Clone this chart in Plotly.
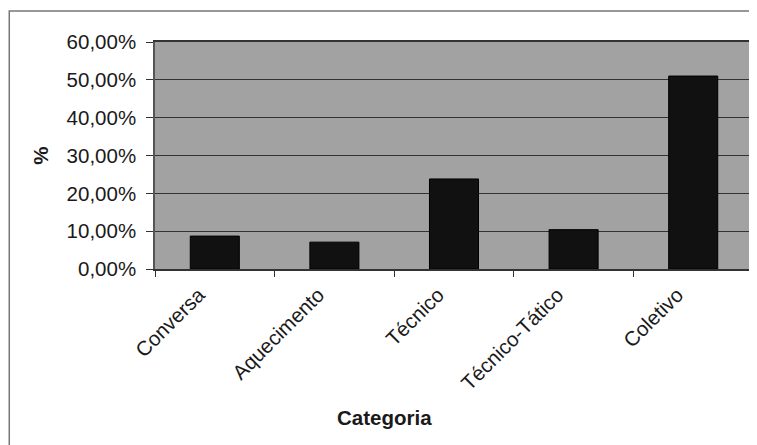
import plotly.graph_objects as go

categories = ["Conversa", "Aquecimento", "Técnico", "Técnico-Tático", "Coletivo"]
values = [0.087, 0.071, 0.238, 0.104, 0.510]
y_ticks = [0, 0.1, 0.2, 0.3, 0.4, 0.5, 0.6]

FONT = "Liberation Sans, Arial, sans-serif"
FS = 20.5

fig = go.Figure(
    go.Bar(
        x=categories,
        y=values,
        marker=dict(color="#111111", line=dict(color="#000000", width=1)),
        width=0.41,
    )
)

fig.update_layout(
    width=749,
    height=437,
    margin=dict(l=147, r=2, t=34, b=176),
    paper_bgcolor="white",
    plot_bgcolor="#a2a2a2",
    separators=",.",
    showlegend=False,
    font=dict(family=FONT, size=FS, color="#1a1a1a"),
)

fig.update_xaxes(
    type="category",
    tickson="boundaries",
    ticks="outside",
    ticklen=6,
    tickcolor="#333333",
    tickangle=-45,
    ticklabelshift=-16,
    ticklabelstandoff=4,
    showline=True,
    linecolor="#333333",
    linewidth=1.5,
    mirror=True,
    showgrid=False,
    tickfont=dict(family=FONT, size=FS, color="#1a1a1a"),
)

fig.update_yaxes(
    range=[0, 0.6],
    tickvals=y_ticks,
    tickformat=".2%",
    ticks="outside",
    ticklen=7,
    tickcolor="#333333",
    ticklabelstandoff=6,
    showline=True,
    linecolor="#555555",
    linewidth=1.5,
    mirror=True,
    showgrid=True,
    gridcolor="#333333",
    gridwidth=1,
    zeroline=False,
    tickfont=dict(family=FONT, size=FS, color="#1a1a1a"),
    title=dict(text="<b>%</b>", standoff=12, font=dict(family=FONT, size=FS, color="#1a1a1a")),
)

# X-axis title as annotation (offset left like the original)
fig.add_annotation(
    text="<b>Categoria</b>",
    xref="paper", yref="paper",
    x=0.383, y=-0.652,
    showarrow=False,
    xanchor="center", yanchor="middle",
    font=dict(family=FONT, size=FS, color="#1a1a1a"),
)

# Outer chart frame (left and top edges visible)
fig.add_shape(
    type="rect",
    xref="paper", yref="paper",
    x0=-0.2437, y0=-0.9, x1=1.05, y1=1.1366,
    line=dict(color="#777777", width=1.5),
    fillcolor="rgba(0,0,0,0)",
    layer="below",
)

fig.write_html("out.html")
